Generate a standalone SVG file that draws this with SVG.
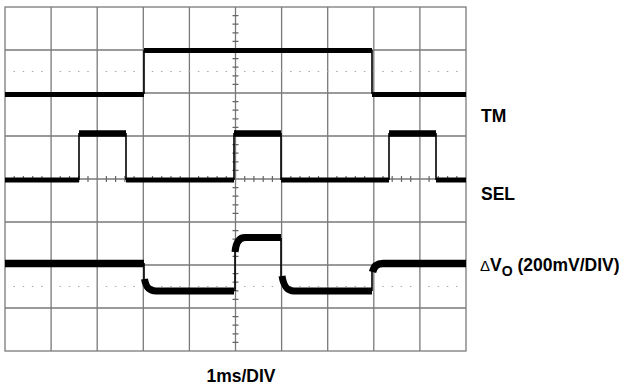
<svg xmlns="http://www.w3.org/2000/svg" width="627" height="387" viewBox="0 0 627 387">
<style>
.grid{stroke:#7a7a7a;stroke-width:1.3;fill:none}
.dots{stroke:#a8a8a8;stroke-width:1.2;stroke-dasharray:1.5 7.72;fill:none}
.tick{stroke:#666;stroke-width:1.2;fill:none}
.lvl{stroke:#000;fill:none;stroke-linecap:butt}
.edge{stroke:#000;stroke-width:1.6;fill:none}
.lbl{font-family:"Liberation Sans",Arial,sans-serif;font-weight:bold;font-size:17.5px;fill:#000}
</style>
<rect width="627" height="387" fill="#fff"/>
<g id="grid">
<rect class="grid" x="5" y="7" width="461" height="344"/>
<path class="grid" d="M51.1,7V351M97.2,7V351M143.3,7V351M189.4,7V351M235.5,7V351M281.6,7V351M327.7,7V351M373.8,7V351M419.9,7V351"/>
<path class="grid" d="M5,50H466M5,93H466M5,136H466M5,179H466M5,222H466M5,265H466M5,308H466"/>
<path class="dots" d="M4.25,71.5H466M4.25,286.5H466"/>
<path class="tick" d="M232.5,15.6h6M232.5,24.2h6M232.5,32.8h6M232.5,41.4h6M232.5,58.6h6M232.5,67.2h6M232.5,75.8h6M232.5,84.4h6M232.5,101.6h6M232.5,110.2h6M232.5,118.8h6M232.5,127.4h6M232.5,144.6h6M232.5,153.2h6M232.5,161.8h6M232.5,170.4h6M232.5,187.6h6M232.5,196.2h6M232.5,204.8h6M232.5,213.4h6M232.5,230.6h6M232.5,239.2h6M232.5,247.8h6M232.5,256.4h6M232.5,273.6h6M232.5,282.2h6M232.5,290.8h6M232.5,299.4h6M232.5,316.6h6M232.5,325.2h6M232.5,333.8h6M232.5,342.4h6"/>
<path class="tick" d="M14.2,176v6M23.4,176v6M32.7,176v6M41.9,176v6M60.3,176v6M69.5,176v6M78.8,176v6M88,176v6M106.4,176v6M115.6,176v6M124.9,176v6M134.1,176v6M152.5,176v6M161.7,176v6M171,176v6M180.2,176v6M198.6,176v6M207.8,176v6M217.1,176v6M226.3,176v6M244.7,176v6M253.9,176v6M263.2,176v6M272.4,176v6M290.8,176v6M300,176v6M309.3,176v6M318.5,176v6M336.9,176v6M346.1,176v6M355.4,176v6M364.6,176v6M383,176v6M392.2,176v6M401.5,176v6M410.7,176v6M429.1,176v6M438.3,176v6M447.6,176v6M456.8,176v6"/>
</g>
<g id="traces">
<g id="tm">
<path class="lvl" stroke-width="5" d="M5,94.5H144M144,50.5H372M372,94.5H466"/>
<path class="edge" d="M144,94V50M372,50V94"/>
</g>
<g id="sel">
<path class="lvl" stroke-width="5" d="M5,180H79M126,180H234M281,180H389M436,180H466"/>
<path class="lvl" stroke-width="6.5" d="M79,133.5H126M234,133.5H281M389,133.5H436"/>
<path class="edge" d="M79,180V133M126,133V180M234,180V133M281,133V180M389,180V133M436,133V180"/>
</g>
<g id="dvo">
<path class="lvl" stroke-width="7.5" d="M5,263.5H144"/>
<path class="lvl" stroke-width="7" d="M144.5,279C146,288 150,291 156,291H234"/>
<path class="lvl" stroke-width="7" d="M235,252C236,242 239,237.5 245,237.5H281"/>
<path class="lvl" stroke-width="7" d="M282,276C284,288 288,291 294,291H372"/>
<path class="lvl" stroke-width="7.5" d="M372.5,272C374,266 377,263.5 383,263.5H466"/>
<path class="edge" d="M144,263V285M235,291V245M281,238V282M372,291V268"/>
</g>
</g>
<g id="labels">
<text class="lbl" x="481" y="122">TM</text>
<text class="lbl" x="481" y="200">SEL</text>
<text class="lbl" x="480" y="271"><tspan font-weight="normal" font-size="15">Δ</tspan>V<tspan font-size="14" dy="5">O</tspan><tspan dy="-5"> (200mV/DIV)</tspan></text>
<text class="lbl" x="241" y="382" text-anchor="middle">1ms/DIV</text>
</g>
</svg>
